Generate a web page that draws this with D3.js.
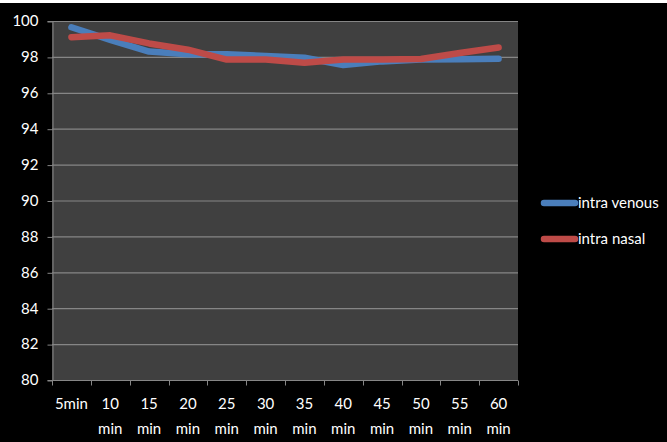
<!DOCTYPE html>
<html>
<head>
<meta charset="utf-8">
<script src="https://cdn.jsdelivr.net/npm/d3@7"></script>
<style>
  html, body { margin: 0; padding: 0; background: #000; }
  svg { display: block; }
  text { font-family: Lato, "Open Sans", sans-serif; fill: #fff; }
</style>
</head>
<body>
<svg id="chart" width="667" height="442"></svg>
<script>
// Time points after administration
const categories = ["5min", "10 min", "15 min", "20 min", "25 min", "30 min",
                    "35 min", "40 min", "45 min", "50 min", "55 min", "60 min"];
// Oxygen saturation (%) per route
const intraVenous = [99.65, 98.95, 98.3, 98.15, 98.15, 98.05, 97.95, 97.55, 97.75, 97.85, 97.87, 97.9];
const intraNasal  = [99.1, 99.2, 98.75, 98.4, 97.85, 97.85, 97.68, 97.85, 97.85, 97.88, 98.22, 98.52];
const yTicks = [80, 82, 84, 86, 88, 90, 92, 94, 96, 98, 100];

const series = [
  { name: "intra venous", values: intraVenous, color: "#4A7EBB" },
  { name: "intra nasal",  values: intraNasal,  color: "#BE4B48" }
];

const svg = d3.select("#chart");
const W = 667, H = 442;
const plot = { left: 52, right: 518, top: 21, bottom: 380 };
const FONT = 15;

svg.append("rect").attr("width", W).attr("height", H).attr("fill", "#000");
svg.append("rect").attr("width", W).attr("height", 3).attr("fill", "#fff");

const x = d3.scaleBand().domain(categories).range([plot.left, plot.right]);
const y = d3.scaleLinear().domain([80, 100]).range([plot.bottom, plot.top]);

svg.append("rect")
  .attr("x", plot.left).attr("y", plot.top)
  .attr("width", plot.right - plot.left).attr("height", plot.bottom - plot.top)
  .attr("fill", "#404040");

// Horizontal gridlines
svg.append("g").selectAll("line").data(yTicks.filter(d => d > 80)).join("line")
  .attr("x1", plot.left).attr("x2", plot.right)
  .attr("y1", d => y(d) + 0.5).attr("y2", d => y(d) + 0.5)
  .attr("stroke", "#868686").attr("stroke-width", 1.2);

// Y axis
const yAxis = svg.append("g")
  .attr("transform", `translate(${plot.left + 0.5},0)`)
  .call(d3.axisLeft(y).tickValues(yTicks).tickSize(5).tickPadding(9));
yAxis.select(".domain").attr("stroke", "#868686");
yAxis.selectAll(".tick line").attr("stroke", "#868686").attr("transform", "translate(0,0.5)");
yAxis.selectAll(".tick text")
  .attr("fill", "#fff").attr("font-size", FONT)
  .attr("font-family", "Lato, Open Sans, sans-serif");

// X axis: ticks on category boundaries
const xAxisG = svg.append("g").attr("transform", `translate(0,${plot.bottom + 0.5})`);
xAxisG.append("line")
  .attr("x1", plot.left).attr("x2", plot.right)
  .attr("stroke", "#868686");
const boundaries = categories.map(c => x(c)).concat([plot.right]);
xAxisG.selectAll(".tk").data(boundaries).join("line")
  .attr("class", "tk")
  .attr("x1", d => Math.round(d) + 0.5).attr("x2", d => Math.round(d) + 0.5)
  .attr("y1", 0).attr("y2", 5)
  .attr("stroke", "#868686");

const xLabels = svg.append("g").selectAll("text").data(categories).join("text")
  .attr("x", d => x(d) + x.bandwidth() / 2)
  .attr("y", 409)
  .attr("text-anchor", "middle")
  .attr("font-size", FONT);
xLabels.each(function (d) {
  const parts = d.split(" ");
  const t = d3.select(this);
  parts.forEach((p, i) => {
    t.append("tspan")
      .attr("x", x(d) + x.bandwidth() / 2)
      .attr("dy", i === 0 ? 0 : 25)
      .text(p);
  });
});

// Lines
const line = d3.line()
  .x((d, i) => x(categories[i]) + x.bandwidth() / 2)
  .y(d => y(d));

svg.append("g").selectAll("path").data(series).join("path")
  .attr("d", d => line(d.values))
  .attr("fill", "none")
  .attr("stroke", d => d.color)
  .attr("stroke-width", 6.5)
  .attr("stroke-linecap", "round")
  .attr("stroke-linejoin", "round");

// Legend
const legend = svg.append("g").selectAll("g").data(series).join("g")
  .attr("transform", (d, i) => `translate(0,${203 + i * 36})`);
legend.append("line")
  .attr("x1", 544).attr("x2", 575)
  .attr("stroke", d => d.color)
  .attr("stroke-width", 6.5)
  .attr("stroke-linecap", "round");
legend.append("text")
  .attr("x", 578).attr("y", 5)
  .attr("font-size", FONT)
  .text(d => d.name);
</script>
</body>
</html>
